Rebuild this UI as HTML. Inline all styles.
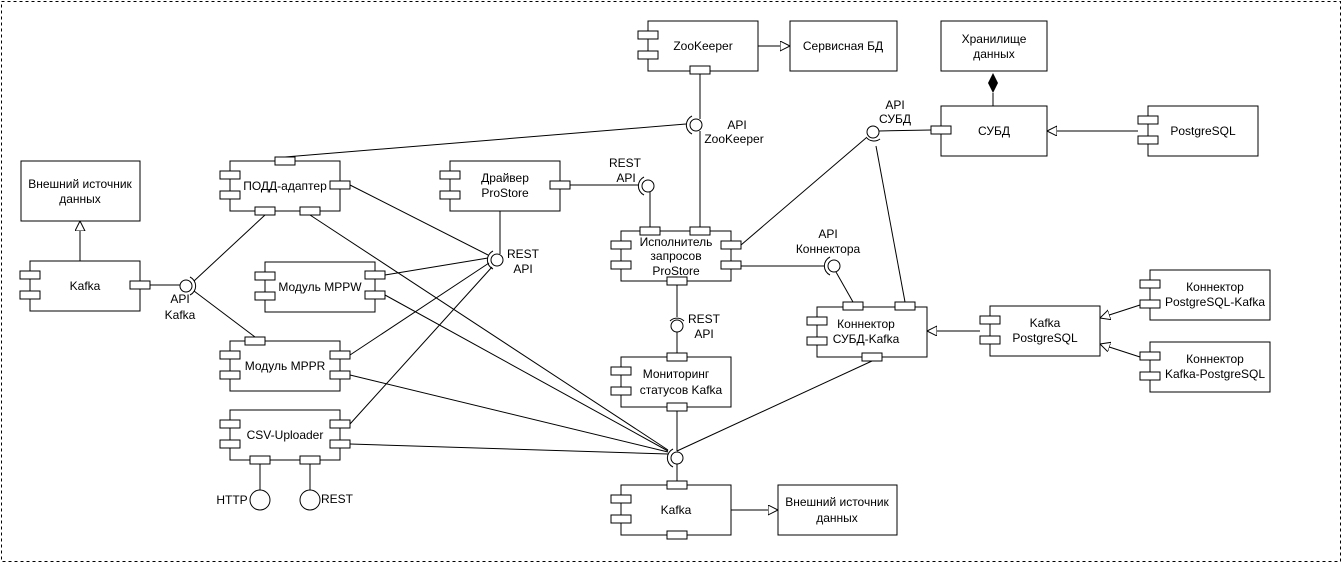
<!DOCTYPE html>
<html><head><meta charset="utf-8"><style>
html,body{margin:0;padding:0;background:#fff;width:1342px;height:563px;overflow:hidden}
svg text{font-family:"Liberation Sans",sans-serif;font-size:12px;fill:#000;text-anchor:middle}
</style></head><body>
<svg width="1342" height="563" viewBox="0 0 1342 563" xmlns="http://www.w3.org/2000/svg">
<defs>
<marker id="tri" markerWidth="12" markerHeight="12" refX="10" refY="5" orient="auto" markerUnits="userSpaceOnUse"><path d="M0,0 L10,5 L0,10 Z" fill="#fff" stroke="#000"/></marker>
</defs>
<rect x="1.5" y="1.5" width="1339" height="560" fill="none" stroke="#000" stroke-dasharray="3,3"/>
<g stroke="#000" fill="none" stroke-width="1">
<!-- connector lines -->
<line x1="285" y1="157" x2="686" y2="124"/>
<line x1="700" y1="74" x2="700" y2="119"/>
<line x1="700" y1="131" x2="700" y2="227"/>
<line x1="570" y1="185" x2="639" y2="185"/>
<line x1="650" y1="192" x2="650" y2="227"/>
<line x1="741" y1="245" x2="866" y2="138"/>
<line x1="879" y1="131" x2="931" y2="130"/>
<line x1="876" y1="146" x2="905" y2="302"/>
<line x1="741" y1="266" x2="824" y2="266"/>
<line x1="836" y1="272" x2="853" y2="302"/>
<line x1="677" y1="285" x2="677" y2="317"/>
<line x1="677" y1="332" x2="677" y2="353"/>
<line x1="500" y1="211" x2="500" y2="254"/>
<line x1="350" y1="185" x2="488" y2="255"/>
<line x1="385" y1="275" x2="488" y2="258"/>
<line x1="350" y1="355" x2="489" y2="263"/>
<line x1="350" y1="424" x2="492" y2="267"/>
<line x1="310" y1="215" x2="668" y2="450"/>
<line x1="385" y1="295" x2="668" y2="451"/>
<line x1="350" y1="375" x2="668" y2="452"/>
<line x1="350" y1="444" x2="668" y2="454"/>
<line x1="872" y1="361" x2="677" y2="451"/>
<line x1="677" y1="407" x2="677" y2="451"/>
<line x1="677" y1="464" x2="677" y2="481"/>
<line x1="150" y1="285" x2="180" y2="285"/>
<line x1="265" y1="215" x2="194" y2="281"/>
<line x1="255" y1="337" x2="194" y2="291"/>
<line x1="260" y1="464" x2="260" y2="490"/>
<line x1="310" y1="464" x2="310" y2="490"/>
<!-- arrows -->
<line x1="758" y1="46" x2="790" y2="46" marker-end="url(#tri)"/>
<line x1="80" y1="261" x2="80" y2="221" marker-end="url(#tri)"/>
<line x1="1138" y1="131" x2="1047" y2="131" marker-end="url(#tri)"/>
<line x1="980" y1="331" x2="927" y2="331" marker-end="url(#tri)"/>
<line x1="1140" y1="305" x2="1100" y2="318" marker-end="url(#tri)"/>
<line x1="1140" y1="357" x2="1100" y2="344" marker-end="url(#tri)"/>
<line x1="731" y1="510" x2="778" y2="510" marker-end="url(#tri)"/>
<line x1="993" y1="93" x2="993" y2="106"/>
</g>
<path d="M993,73 L998,83 L993,93 L988,83 Z" fill="#000"/>
<g stroke="#000" fill="#fff">
<!-- interfaces: circle + socket -->
<circle cx="696" cy="125" r="6"/><path d="M692,116 A10,10 0 0 0 692,134" fill="none"/>
<circle cx="648" cy="186" r="6"/><path d="M644,177 A10,10 0 0 0 644,195" fill="none"/>
<circle cx="873" cy="132" r="6"/><path d="M866,137 A10,10 0 0 0 880,139" fill="none"/>
<circle cx="834" cy="266" r="6"/><path d="M830,257 A10,10 0 0 0 830,275" fill="none"/>
<circle cx="677" cy="326" r="6"/><path d="M670,321 A10,10 0 0 1 684,321" fill="none"/>
<circle cx="497" cy="260" r="6"/><path d="M493,251 A10,10 0 0 0 493,269" fill="none"/>
<circle cx="677" cy="458" r="6"/><path d="M673,449 A10,10 0 0 0 673,467" fill="none"/>
<circle cx="186" cy="286" r="6"/><path d="M190,277 A10,10 0 0 1 190,295" fill="none"/>
<circle cx="260" cy="500" r="10"/><circle cx="310" cy="500" r="10"/>
<!-- plain boxes -->
<rect x="790" y="21" width="107" height="50"/>
<rect x="941" y="21" width="106" height="50"/>
<rect x="21" y="161" width="119" height="60"/>
<rect x="778" y="485" width="119" height="50"/>
<!-- components -->
<rect x="648" y="21" width="110" height="50"/><rect x="638" y="31" width="20" height="8"/><rect x="638" y="51" width="20" height="8"/><rect x="690" y="66" width="20" height="8"/>
<rect x="941" y="106" width="106" height="50"/><rect x="931" y="126" width="20" height="8"/>
<rect x="1148" y="106" width="110" height="50"/><rect x="1138" y="116" width="20" height="8"/><rect x="1138" y="136" width="20" height="8"/>
<rect x="30" y="261" width="110" height="50"/><rect x="20" y="271" width="20" height="8"/><rect x="20" y="291" width="20" height="8"/><rect x="130" y="281" width="20" height="8"/>
<rect x="230" y="161" width="110" height="50"/><rect x="220" y="171" width="20" height="8"/><rect x="220" y="191" width="20" height="8"/><rect x="275" y="157" width="20" height="8"/><rect x="330" y="181" width="20" height="8"/><rect x="255" y="207" width="20" height="8"/><rect x="300" y="207" width="20" height="8"/>
<rect x="450" y="161" width="110" height="50"/><rect x="440" y="171" width="20" height="8"/><rect x="440" y="191" width="20" height="8"/><rect x="550" y="181" width="20" height="8"/>
<rect x="265" y="262" width="110" height="50"/><rect x="255" y="272" width="20" height="8"/><rect x="255" y="292" width="20" height="8"/><rect x="365" y="271" width="20" height="8"/><rect x="365" y="291" width="20" height="8"/>
<rect x="230" y="341" width="110" height="50"/><rect x="245" y="337" width="20" height="8"/><rect x="220" y="351" width="20" height="8"/><rect x="220" y="371" width="20" height="8"/><rect x="330" y="351" width="20" height="8"/><rect x="330" y="371" width="20" height="8"/>
<rect x="230" y="410" width="110" height="50"/><rect x="220" y="420" width="20" height="8"/><rect x="220" y="440" width="20" height="8"/><rect x="330" y="420" width="20" height="8"/><rect x="330" y="440" width="20" height="8"/><rect x="250" y="456" width="20" height="8"/><rect x="300" y="456" width="20" height="8"/>
<rect x="621" y="231" width="110" height="50"/><rect x="640" y="227" width="20" height="8"/><rect x="690" y="227" width="20" height="8"/><rect x="611" y="241" width="20" height="8"/><rect x="611" y="261" width="20" height="8"/><rect x="721" y="241" width="20" height="8"/><rect x="721" y="261" width="20" height="8"/><rect x="667" y="277" width="20" height="8"/>
<rect x="621" y="357" width="110" height="50"/><rect x="667" y="353" width="20" height="8"/><rect x="611" y="367" width="20" height="8"/><rect x="611" y="387" width="20" height="8"/><rect x="667" y="403" width="20" height="8"/>
<rect x="621" y="485" width="110" height="50"/><rect x="667" y="481" width="20" height="8"/><rect x="611" y="495" width="20" height="8"/><rect x="611" y="515" width="20" height="8"/><rect x="667" y="531" width="20" height="8"/>
<rect x="817" y="307" width="110" height="50"/><rect x="843" y="302" width="20" height="8"/><rect x="895" y="302" width="20" height="8"/><rect x="807" y="317" width="20" height="8"/><rect x="807" y="337" width="20" height="8"/><rect x="862" y="353" width="20" height="8"/>
<rect x="990" y="306" width="110" height="50"/><rect x="980" y="316" width="20" height="8"/><rect x="980" y="336" width="20" height="8"/>
<rect x="1150" y="270" width="120" height="50"/><rect x="1140" y="280" width="20" height="8"/><rect x="1140" y="300" width="20" height="8"/>
<rect x="1150" y="342" width="120" height="50"/><rect x="1140" y="352" width="20" height="8"/><rect x="1140" y="372" width="20" height="8"/>
</g>
<g>
<text x="703" y="50">ZooKeeper</text>
<text x="843" y="50">Сервисная БД</text>
<text x="994" y="43">Хранилище</text><text x="994" y="58">данных</text>
<text x="994" y="135">СУБД</text>
<text x="1203" y="135">PostgreSQL</text>
<text x="737" y="129">API</text><text x="734" y="143">ZooKeeper</text>
<text x="895" y="109">API</text><text x="895" y="123">СУБД</text>
<text x="625" y="167">REST</text><text x="626" y="182">API</text>
<text x="80" y="188">Внешний источник</text><text x="80" y="203">данных</text>
<text x="85" y="290">Kafka</text>
<text x="180" y="303">API</text><text x="180" y="319">Kafka</text>
<text x="285" y="190">ПОДД-адаптер</text>
<text x="505" y="182">Драйвер</text><text x="505" y="197">ProStore</text>
<text x="523" y="258">REST</text><text x="523" y="273">API</text>
<text x="320" y="291">Модуль MPPW</text>
<text x="285" y="370">Модуль MPPR</text>
<text x="285" y="439">CSV-Uploader</text>
<text x="232" y="504">HTTP</text><text x="337" y="503">REST</text>
<text x="676" y="246">Исполнитель</text><text x="676" y="260">запросов</text><text x="676" y="275">ProStore</text>
<text x="828" y="238">API</text><text x="828" y="253">Коннектора</text>
<text x="704" y="323">REST</text><text x="704" y="338">API</text>
<text x="676" y="378">Мониторинг</text><text x="681" y="394">статусов Kafka</text>
<text x="676" y="514">Kafka</text>
<text x="837" y="506">Внешний источник</text><text x="837" y="522">данных</text>
<text x="866" y="328">Коннектор</text><text x="866" y="343">СУБД-Kafka</text>
<text x="1045" y="327">Kafka</text><text x="1045" y="342">PostgreSQL</text>
<text x="1215" y="291">Коннектор</text><text x="1215" y="306">PostgreSQL-Kafka</text>
<text x="1215" y="363">Коннектор</text><text x="1215" y="378">Kafka-PostgreSQL</text>
</g>
</svg>
</body></html>
